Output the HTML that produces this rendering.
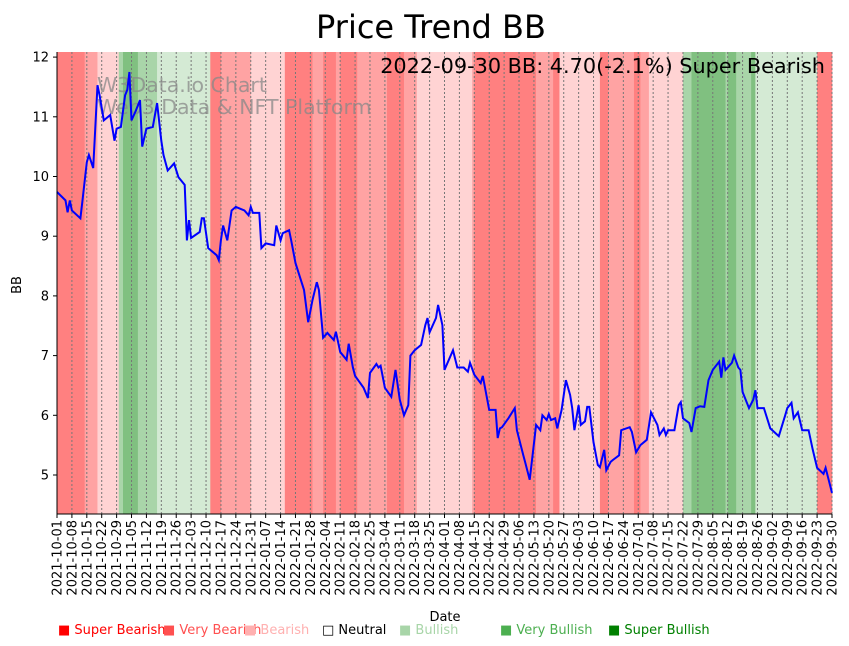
<!DOCTYPE html>
<html><head><meta charset="utf-8"><style>
body{margin:0;background:#fff;}
svg{display:block;font-family:"DejaVu Sans","Liberation Sans",sans-serif;}
</style></head><body>
<svg id="chart" width="849" height="646" viewBox="0 0 849 646" xmlns="http://www.w3.org/2000/svg">
<text x="431" y="38" font-size="32" text-anchor="middle">Price Trend BB</text>
<g id="bands"></g>
<g id="grid"></g>
<text x="97" y="92" font-size="20.5" fill="#888" fill-opacity="0.75">W3Data.io Chart</text>
<text x="97" y="114" font-size="20.5" fill="#888" fill-opacity="0.75">Web3 Data &amp; NFT Platform</text>
<path id="line" fill="none" stroke="#0000ff" stroke-width="2"/>
<text x="825" y="73" font-size="20.8" text-anchor="end">2022-09-30 BB: 4.70(-2.1%) Super Bearish</text>
<g id="axes"></g>
<text x="0" y="0" font-size="13" text-anchor="middle" transform="translate(21,285) rotate(-90)">BB</text>
<text x="445" y="621" font-size="13" text-anchor="middle">Date</text>
<g id="legend" font-size="13"></g>
</svg>
<script>
const bandStarts=[0,13,19,29,31,38,47,72,77,91,107,120,125,131,133,141,155,163,169,195,196,225,233,236,255,259,271,274,278,294,298,314,315,319,326,328,357];
const bandLevels=[-3,-2,-1,2,3,2,1,-3,-2,-1,-3,-2,-3,-2,-3,-2,-3,-2,-1,-2,-3,-2,-3,-1,-3,-2,-3,-2,-1,2,3,2,3,2,3,1,-3];
const priceDays=[0,4,5,6,7,11,12,14,15,17,19,20,22,25,27,28,30,32,33,34,35,37,39,40,42,45,47,49,50,52,55,57,60,61,62,63,67,68,69,71,75,76,77,78,80,82,84,88,90,91,92,95,96,98,102,103,105,106,109,110,112,116,118,120,122,123,125,127,130,131,133,136,137,139,140,144,146,147,150,151,152,154,157,159,161,163,165,166,168,171,173,174,175,178,179,181,182,186,188,191,193,194,196,199,200,203,204,206,207,208,209,212,215,216,219,220,222,223,225,227,228,230,231,232,234,235,237,239,241,242,243,245,246,248,249,250,252,254,255,257,258,260,261,264,265,269,270,272,274,277,279,282,283,285,286,287,290,292,293,294,297,298,300,302,304,306,308,311,312,313,314,317,318,320,321,322,325,327,328,329,332,335,339,342,343,345,346,348,350,353,355,357,360,361,364];
const priceValues=[9.74,9.6,9.4,9.6,9.43,9.3,9.6,10.24,10.36,10.14,11.53,11.36,10.94,11.03,10.6,10.8,10.83,11.36,11.45,11.75,10.94,11.1,11.28,10.5,10.8,10.83,11.23,10.6,10.36,10.1,10.22,9.99,9.86,8.93,9.27,8.97,9.07,9.3,9.3,8.8,8.68,8.6,8.93,9.18,8.93,9.43,9.49,9.43,9.35,9.49,9.39,9.39,8.8,8.88,8.85,9.18,8.93,9.05,9.1,8.93,8.55,8.1,7.56,7.93,8.23,8.1,7.3,7.38,7.26,7.4,7.06,6.93,7.2,6.8,6.66,6.46,6.29,6.71,6.86,6.8,6.83,6.46,6.31,6.76,6.26,6.0,6.17,7.0,7.09,7.18,7.51,7.63,7.39,7.63,7.85,7.51,6.76,7.09,6.8,6.8,6.73,6.88,6.68,6.54,6.66,6.09,6.09,6.09,5.62,5.78,5.8,5.95,6.12,5.75,5.33,5.2,4.92,5.22,5.84,5.75,6.0,5.92,6.02,5.92,5.95,5.78,6.09,6.59,6.34,6.12,5.75,6.17,5.84,5.9,6.14,6.14,5.55,5.17,5.13,5.42,5.08,5.22,5.25,5.33,5.75,5.8,5.72,5.38,5.5,5.59,6.05,5.84,5.67,5.78,5.67,5.75,5.75,6.17,6.22,5.95,5.87,5.72,6.12,6.15,6.14,6.59,6.76,6.9,6.63,6.97,6.76,6.88,7.0,6.8,6.76,6.39,6.12,6.26,6.42,6.12,6.12,5.78,5.65,6.0,6.12,6.21,5.95,6.05,5.75,5.75,5.42,5.12,5.02,5.12,4.7];
const yTicks=[5,6,7,8,9,10,11,12];
const legendLabels=["Super Bearish","Very Bearish","Bearish","Neutral","Bullish","Very Bullish","Super Bullish"];
const legendColors=["#ff0000","#ff5050","#ffb0b0","#000000","#a8d5a8","#4caf50","#008000"];
const legendX=[58,163,244,322,399,500,608];

const NS="http://www.w3.org/2000/svg";
const X0=57,X1=832,Y0=52,Y1=514,NDAYS=364;
const xs=d=>X0+d*(X1-X0)/NDAYS;
const ys=v=>475-(v-5)*59.7;
const bandColor={"-3":"#ff8080","-2":"#ffa3a3","-1":"#ffd3d3","0":"#ffffff","1":"#d4ead4","2":"#a9d5a9","3":"#80c080"};
function mk(tag,attrs,parent){const e=document.createElementNS(NS,tag);for(const k in attrs)e.setAttribute(k,attrs[k]);parent.appendChild(e);return e;}
const bands=document.getElementById('bands');
for(let i=0;i<bandStarts.length;i++){
  const s=bandStarts[i],e=i+1<bandStarts.length?bandStarts[i+1]:NDAYS;
  const r=mk('rect',{x:xs(s),y:Y0,width:xs(e)-xs(s)+0.3,height:Y1-Y0,fill:bandColor[bandLevels[i]]},bands);
  
  
}
const grid=document.getElementById('grid'),axes=document.getElementById('axes');
const start=new Date(Date.UTC(2021,9,1));
for(let d=0;d<=NDAYS;d+=7){
  const x=xs(d);
  const g=mk('line',{x1:x,x2:x,y1:Y0,y2:Y1,stroke:'#777','stroke-width':1,'stroke-dasharray':'2,2'},grid);
  
  
  mk('line',{x1:x,x2:x,y1:Y1,y2:Y1+4,stroke:'#000'},axes);
  const dt=new Date(start.getTime()+d*86400000);
  const lab=dt.toISOString().slice(0,10);
  const t=mk('text',{'font-size':13,'text-anchor':'end',transform:`translate(${x+4.5},${Y1+6}) rotate(-90)`},axes);
  t.textContent=lab;
  
  
}
for(const v of yTicks){
  const y=ys(v);
  mk('line',{x1:X0-4,x2:X0,y1:y,y2:y,stroke:'#000'},axes);
  const t=mk('text',{x:X0-8,y:y+4.5,'font-size':13,'text-anchor':'end'},axes);
  t.textContent=v;
  
  
}
const sp=mk('path',{d:`M${X0},${Y0}V${Y1}H${X1}`,fill:'none',stroke:'#000','stroke-width':1},axes);


document.getElementById('line').setAttribute('d',priceDays.map((d,i)=>(i?'L':'M')+xs(d).toFixed(1)+','+ys(priceValues[i]).toFixed(1)).join(''));
const lg=document.getElementById('legend');
for(let i=0;i<legendLabels.length;i++){
  const t=mk('text',{x:legendX[i],y:634,fill:legendColors[i]},lg);
  t.textContent=(i===3?'\u25A1 ':'\u25A0 ')+legendLabels[i];
  
  
}
</script>
</body></html>
